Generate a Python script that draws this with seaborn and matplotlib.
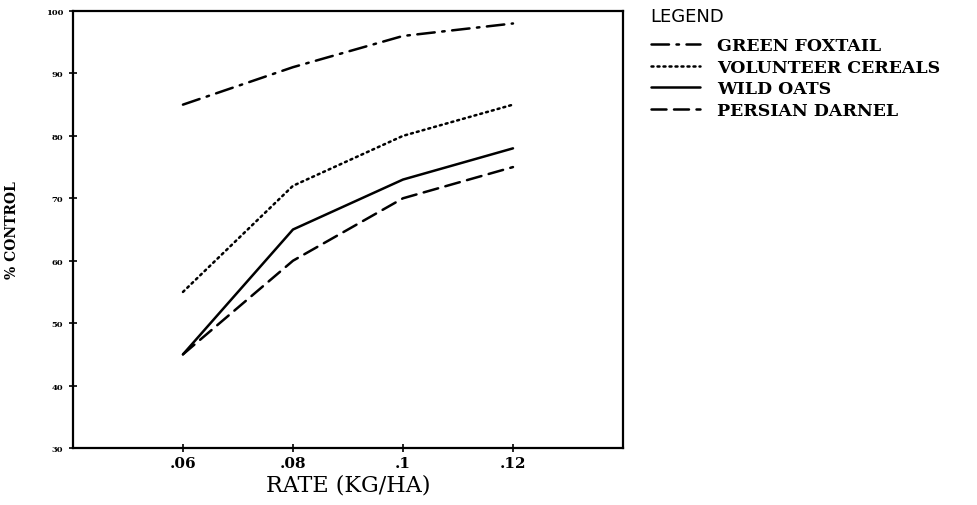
import matplotlib
matplotlib.use("Agg")
import matplotlib.pyplot as plt
import seaborn as sns
import pandas as pd

rates = [0.06, 0.08, 0.10, 0.12]
rate_labels = [".06", ".08", ".1", ".12"]
green_foxtail = [85, 91, 96, 98]
volunteer_cereals = [55, 72, 80, 85]
wild_oats = [45, 65, 73, 78]
persian_darnel = [45, 60, 70, 75]
species = ["GREEN FOXTAIL", "VOLUNTEER CEREALS", "WILD OATS", "PERSIAN DARNEL"]
y_ticks = [30, 40, 50, 60, 70, 80, 90, 100]

df = pd.DataFrame({
    "rate": rates * 4,
    "control": green_foxtail + volunteer_cereals + wild_oats + persian_darnel,
    "species": [s for s in species for _ in rates],
})

sns.set_style("ticks")
plt.rcParams["font.family"] = ["DejaVu Serif"]
plt.rcParams["text.color"] = "black"
plt.rcParams["axes.labelcolor"] = "black"
plt.rcParams["xtick.color"] = "black"
plt.rcParams["ytick.color"] = "black"

fig = plt.figure(figsize=(9.78, 5.06), dpi=100)
ax = fig.add_axes([0.0746, 0.1126, 0.5624, 0.8637])

styles = {
    "GREEN FOXTAIL": (0, (7, 3, 1, 3)),
    "VOLUNTEER CEREALS": (0, (0.8, 1.6)),
    "WILD OATS": "-",
    "PERSIAN DARNEL": (0, (6, 3)),
}
handles = []
for name in species:
    sub = df[df["species"] == name]
    sns.lineplot(data=sub, x="rate", y="control", ax=ax, color="black",
                 linewidth=1.8, linestyle=styles[name], legend=False)
    handles.append(ax.lines[-1])
for ln in ax.lines:
    ln.set_dash_capstyle("round")

ax.set_xlim(0.04, 0.14)
ax.set_ylim(30, 100)
ax.set_xticks(rates)
ax.set_xticklabels(rate_labels, fontsize=11, fontweight="bold")
ax.set_yticks(y_ticks)
ax.set_yticklabels([str(v) for v in y_ticks], fontsize=6, fontweight="bold")
ax.tick_params(axis="both", direction="inout", length=6, width=1.2,
               color="black", pad=3)
ax.tick_params(axis="y", pad=4)
for sp in ax.spines.values():
    sp.set_visible(True)
    sp.set_color("black")
    sp.set_linewidth(1.6)

ax.set_xlabel("RATE (KG/HA)", fontsize=16, labelpad=2)
ax.set_ylabel("% CONTROL", fontsize=10, fontweight="bold")
ax.yaxis.set_label_coords(-0.098, 0.5)

fig.text(650 / 978, 1 - 17 / 506, "LEGEND", family="DejaVu Sans",
         fontsize=13, va="center", ha="left")
leg = fig.legend(handles, species, loc="upper left",
                 bbox_to_anchor=(0.650, 0.956),
                 frameon=False, handlelength=2.8,
                 handletextpad=1.0, labelspacing=0.27,
                 prop={"family": "DejaVu Serif", "weight": "bold", "size": 12.5})

fig.savefig("out.png", dpi=100)
